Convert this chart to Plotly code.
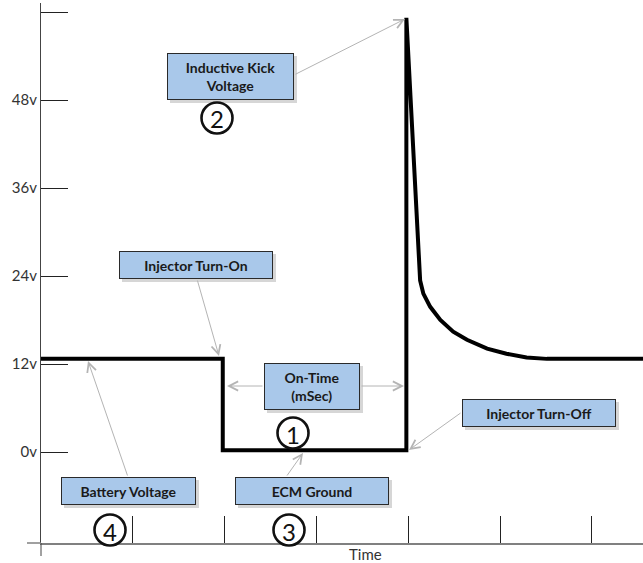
import plotly.graph_objects as go

# ---- data ----
time = [0, 1.98, 1.98, 3.98, 3.98, 4.13, 4.165, 4.24, 4.35, 4.49, 4.64, 4.86, 5.07, 5.29, 5.51, 6.56]
volts = [12.7, 12.7, 0.25, 0.25, 59.2, 23.4, 21.6, 19.8, 18.0, 16.4, 15.3, 14.1, 13.4, 12.9, 12.7, 12.7]
ytick_vals = [0, 12, 24, 36, 48, 60]
ytick_text = ["0v", "12v", "24v", "36v", "48v", ""]
xtick_vals = [1, 2, 3, 4, 5, 6]

# ---- layout geometry (pixels) ----
W, H = 643, 563
L, R, T, B = 41, 0, 3, 20
PW, PH = W - L - R, H - T - B
X0, XS = 41, 91.8          # pixel of x=0, pixels per time unit
Y0, YS = 452, 88 / 12      # pixel of 0v, pixels per volt
xr = [0, (W - R - X0) / XS]
yr = [(Y0 - (H - B)) / YS, (Y0 - T) / YS]


def fx(p):
    return (p - L) / PW


def fy(p):
    return (H - B - p) / PH


fig = go.Figure()
fig.add_trace(go.Scatter(x=time, y=volts, mode="lines",
                         line=dict(color="black", width=4), hoverinfo="skip"))

FONT = "Lato"
BOXFILL = "#a9c8ea"

annotations = []
shapes = []

# arrows (tail -> head) in pixel positions
arrows = [((294, 75), (405, 19)),
          ((197, 279), (219, 356)),
          ((264, 386), (227, 386)),
          ((360, 386), (404, 386)),
          ((462, 412), (409, 450)),
          ((128, 477), (88, 361)),
          ((286, 477), (303, 453))]
for (tx, ty), (hx, hy) in arrows:
    annotations.append(dict(x=fx(hx), y=fy(hy), ax=tx - hx, ay=ty - hy,
                            xref="paper", yref="paper", axref="pixel", ayref="pixel",
                            text="", showarrow=True,
                            arrowhead=5, arrowsize=1.8, arrowwidth=1, arrowcolor="#b4b4b4",
                            standoff=0, startstandoff=0))

boxes = [("<b>Inductive Kick<br>Voltage</b>", 230.5, 76.5, 127, 47),
         ("<b>Injector Turn-On</b>", 196, 265, 154, 28),
         ("<b>On-Time<br>(mSec)</b>", 312, 386.5, 96, 47),
         ("<b>Injector Turn-Off</b>", 539, 413, 154, 28),
         ("<b>Battery Voltage</b>", 128.5, 491, 135, 28),
         ("<b>ECM Ground</b>", 312, 491, 154, 28)]
for text, cx, cy, w, h in boxes:
    shapes.append(dict(type="rect", xref="paper", yref="paper", layer="above",
                       x0=fx(cx - w / 2 + 3), x1=fx(cx + w / 2 + 3),
                       y0=fy(cy + h / 2 + 3), y1=fy(cy - h / 2 + 3),
                       fillcolor="rgba(0,0,0,0.16)", line=dict(width=0)))
    annotations.append(dict(x=fx(cx), y=fy(cy), xref="paper", yref="paper", text=text,
                            showarrow=False, width=w - 2, height=h - 2,
                            bgcolor=BOXFILL, bordercolor="#2a2a2a", borderwidth=1, borderpad=0,
                            font=dict(family=FONT, size=14, color="#1a1a1a"),
                            xanchor="center", yanchor="middle", align="center"))

circles = [("2", 217, 118), ("1", 293, 433), ("4", 110, 530), ("3", 289, 530)]
r = 15.5
for num, cx, cy in circles:
    shapes.append(dict(type="circle", xref="paper", yref="paper", layer="above",
                       x0=fx(cx - r), x1=fx(cx + r), y0=fy(cy + r), y1=fy(cy - r),
                       fillcolor="white", line=dict(color="#111", width=2.6)))
    annotations.append(dict(x=fx(cx), y=fy(cy + 1), xref="paper", yref="paper", text=num,
                            showarrow=False, font=dict(family=FONT, size=24, color="#111"),
                            xanchor="center", yanchor="middle"))

annotations.append(dict(x=fx(365), y=fy(554), xref="paper", yref="paper", text="Time",
                        showarrow=False, font=dict(family=FONT, size=15, color="#333"),
                        xanchor="center", yanchor="middle"))

# axis line overhangs
shapes.append(dict(type="line", xref="paper", yref="paper", x0=0, x1=0, y0=0, y1=fy(556),
                   line=dict(color="#444", width=1), layer="above"))
shapes.append(dict(type="line", xref="paper", yref="paper", x0=fx(27), x1=0, y0=0, y1=0,
                   line=dict(color="#808080", width=1.5), layer="above"))

fig.update_layout(
    width=W, height=H, margin=dict(l=L, r=R, t=T, b=B),
    paper_bgcolor="white", plot_bgcolor="white", showlegend=False,
    annotations=annotations, shapes=shapes,
    xaxis=dict(range=xr, showgrid=False, zeroline=False, showline=True,
               linecolor="#808080", linewidth=1.5, ticks="inside", ticklen=27,
               tickcolor="#222", tickwidth=1, tickvals=xtick_vals, showticklabels=False,
               fixedrange=True),
    yaxis=dict(range=yr, showgrid=False, zeroline=False, showline=True,
               linecolor="#444", linewidth=1, ticks="inside", ticklen=27,
               tickcolor="#222", tickwidth=1, tickvals=ytick_vals, ticktext=ytick_text,
               tickfont=dict(family=FONT, size=15, color="#333"), fixedrange=True),
)
fig.write_html("out.html", config={"displayModeBar": False},
               post_script="document.body.style.margin='0';document.body.style.overflow='hidden';")
